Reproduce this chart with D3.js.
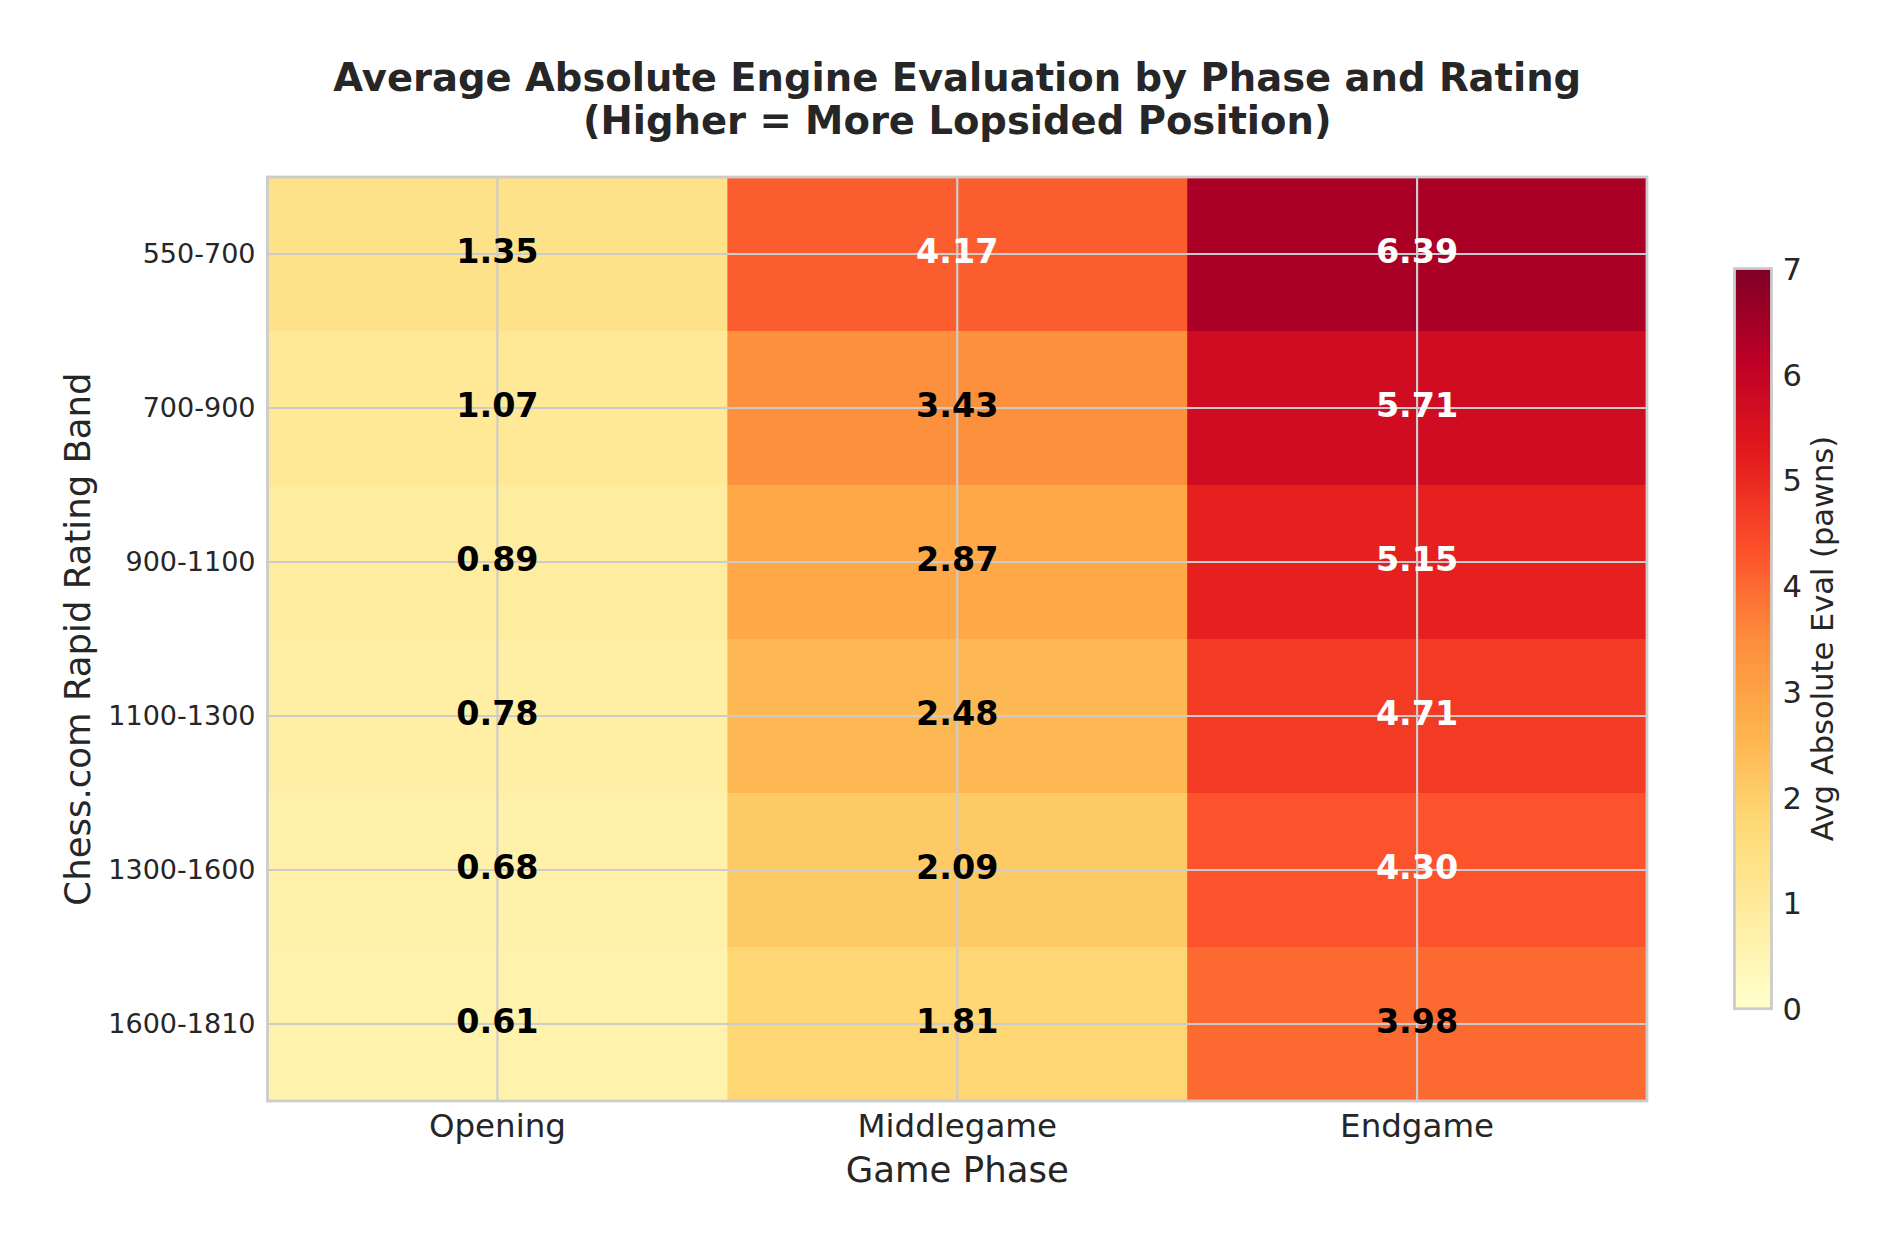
<!DOCTYPE html>
<html>
<head>
<meta charset="utf-8">
<script src="https://cdn.jsdelivr.net/npm/d3@7"></script>
<style>
  body { margin: 0; background: #fff; }
  svg { display: block; font-family: "DejaVu Sans", sans-serif; }
</style>
</head>
<body>
<svg id="chart" width="1900" height="1249"></svg>
<script>
// data
const phases = ["Opening", "Middlegame", "Endgame"];
const bands = ["550-700", "700-900", "900-1100", "1100-1300", "1300-1600", "1600-1810"];
const opening = [1.35, 1.07, 0.89, 0.78, 0.68, 0.61];
const middlegame = [4.17, 3.43, 2.87, 2.48, 2.09, 1.81];
const endgame = [6.39, 5.71, 5.15, 4.71, 4.30, 3.98];
const colorTicks = [0, 1, 2, 3, 4, 5, 6, 7];
// matplotlib YlOrRd
const ylOrRd = ["#ffffcc", "#ffeda0", "#fed976", "#feb24c", "#fd8d3c", "#fc4e2a", "#e31a1c", "#bd0026", "#800026"];

const series = { Opening: opening, Middlegame: middlegame, Endgame: endgame };
const cells = bands.flatMap((b, i) => phases.map((p) => ({ band: b, phase: p, value: series[p][i] })));

const vmin = 0, vmax = 7;
const svg = d3.select("#chart");

// plot area
const plotL = 267.5, plotR = 1647, plotT = 177, plotB = 1101;
const x = d3.scaleBand().domain(phases).range([plotL, plotR]);
const y = d3.scaleBand().domain(bands).range([plotT, plotB]);
const color = d3.scaleLinear()
  .domain(ylOrRd.map((c, i) => vmin + (vmax - vmin) * i / (ylOrRd.length - 1)))
  .range(ylOrRd)
  .clamp(true);

// cells
svg.append("g")
  .selectAll("rect")
  .data(cells)
  .join("rect")
  .attr("x", (d) => x(d.phase))
  .attr("y", (d) => y(d.band))
  .attr("width", x.bandwidth() + 0.5)
  .attr("height", y.bandwidth() + 0.5)
  .attr("fill", (d) => color(d.value));

// grid over cells
const grid = svg.append("g").attr("stroke", "#cccccc").attr("stroke-width", 2.2);
grid.selectAll("line.v")
  .data(phases)
  .join("line")
  .attr("class", "v")
  .attr("x1", (d) => x(d) + x.bandwidth() / 2)
  .attr("x2", (d) => x(d) + x.bandwidth() / 2)
  .attr("y1", plotT)
  .attr("y2", plotB);
grid.selectAll("line.h")
  .data(bands)
  .join("line")
  .attr("class", "h")
  .attr("y1", (d) => y(d) + y.bandwidth() / 2)
  .attr("y2", (d) => y(d) + y.bandwidth() / 2)
  .attr("x1", plotL)
  .attr("x2", plotR);

// value labels
svg.append("g")
  .selectAll("text")
  .data(cells)
  .join("text")
  .attr("x", (d) => x(d.phase) + x.bandwidth() / 2)
  .attr("y", (d) => y(d.band) + y.bandwidth() / 2 + 8.7)
  .attr("text-anchor", "middle")
  .attr("font-size", 33.4)
  .attr("font-weight", "bold")
  .attr("fill", (d) => (d.value > 4 ? "#ffffff" : "#000000"))
  .text((d) => d.value.toFixed(2));

// spines
svg.append("rect")
  .attr("x", plotL).attr("y", plotT)
  .attr("width", plotR - plotL).attr("height", plotB - plotT)
  .attr("fill", "none")
  .attr("stroke", "#cccccc")
  .attr("stroke-width", 2.8);

// axes
const yAxis = svg.append("g")
  .attr("transform", `translate(${plotL},0)`)
  .call(d3.axisLeft(y).tickSize(0).tickPadding(12));
yAxis.select(".domain").remove();
yAxis.selectAll("text")
  .attr("font-size", 27)
  .attr("font-family", "DejaVu Sans")
  .attr("fill", "#262626")
  .attr("dy", "0.35em");

const xAxis = svg.append("g")
  .attr("transform", `translate(0,${plotB})`)
  .call(d3.axisBottom(x).tickSize(0).tickPadding(13));
xAxis.select(".domain").remove();
xAxis.selectAll("text")
  .attr("font-size", 32.5)
  .attr("font-family", "DejaVu Sans")
  .attr("fill", "#262626");

// axis titles
svg.append("text")
  .attr("x", (plotL + plotR) / 2)
  .attr("y", 1182)
  .attr("text-anchor", "middle")
  .attr("font-size", 35.5)
  .attr("fill", "#262626")
  .text("Game Phase");

svg.append("text")
  .attr("transform", `translate(90,${(plotT + plotB) / 2}) rotate(-90)`)
  .attr("text-anchor", "middle")
  .attr("font-size", 35.5)
  .attr("fill", "#262626")
  .text("Chess.com Rapid Rating Band");

// title
const title = svg.append("text")
  .attr("text-anchor", "middle")
  .attr("font-size", 38.5)
  .attr("font-weight", "bold")
  .attr("fill", "#262626");
title.append("tspan").attr("x", (plotL + plotR) / 2).attr("y", 90.7)
  .text("Average Absolute Engine Evaluation by Phase and Rating");
title.append("tspan").attr("x", (plotL + plotR) / 2).attr("y", 134)
  .text("(Higher = More Lopsided Position)");

// colorbar
const cbLeft = 1734.5, cbWidth = 37, cbTop = 268.5, cbBottom = 1008.7;
const cbScale = d3.scaleLinear().domain([vmin, vmax]).range([cbBottom, cbTop]);

const grad = svg.append("defs").append("linearGradient")
  .attr("id", "cbGrad")
  .attr("x1", 0).attr("y1", 1).attr("x2", 0).attr("y2", 0);
grad.selectAll("stop")
  .data(color.domain())
  .join("stop")
  .attr("offset", (d) => (d - vmin) / (vmax - vmin))
  .attr("stop-color", (d) => color(d));

svg.append("rect")
  .attr("x", cbLeft).attr("y", cbTop)
  .attr("width", cbWidth).attr("height", cbBottom - cbTop)
  .attr("fill", "url(#cbGrad)")
  .attr("stroke", "#cccccc")
  .attr("stroke-width", 2.8);

const cbAxis = svg.append("g")
  .attr("transform", `translate(${cbLeft + cbWidth},0)`)
  .call(d3.axisRight(cbScale).tickValues(colorTicks).tickFormat(d3.format("d")).tickSize(0).tickPadding(11));
cbAxis.select(".domain").remove();
cbAxis.selectAll("text")
  .attr("font-size", 30.5)
  .attr("font-family", "DejaVu Sans")
  .attr("fill", "#262626")
  .attr("dy", "0.36em");

svg.append("text")
  .attr("transform", `translate(1833,${(cbTop + cbBottom) / 2}) rotate(-90)`)
  .attr("text-anchor", "middle")
  .attr("font-size", 30.5)
  .attr("fill", "#262626")
  .text("Avg Absolute Eval (pawns)");
</script>
</body>
</html>
